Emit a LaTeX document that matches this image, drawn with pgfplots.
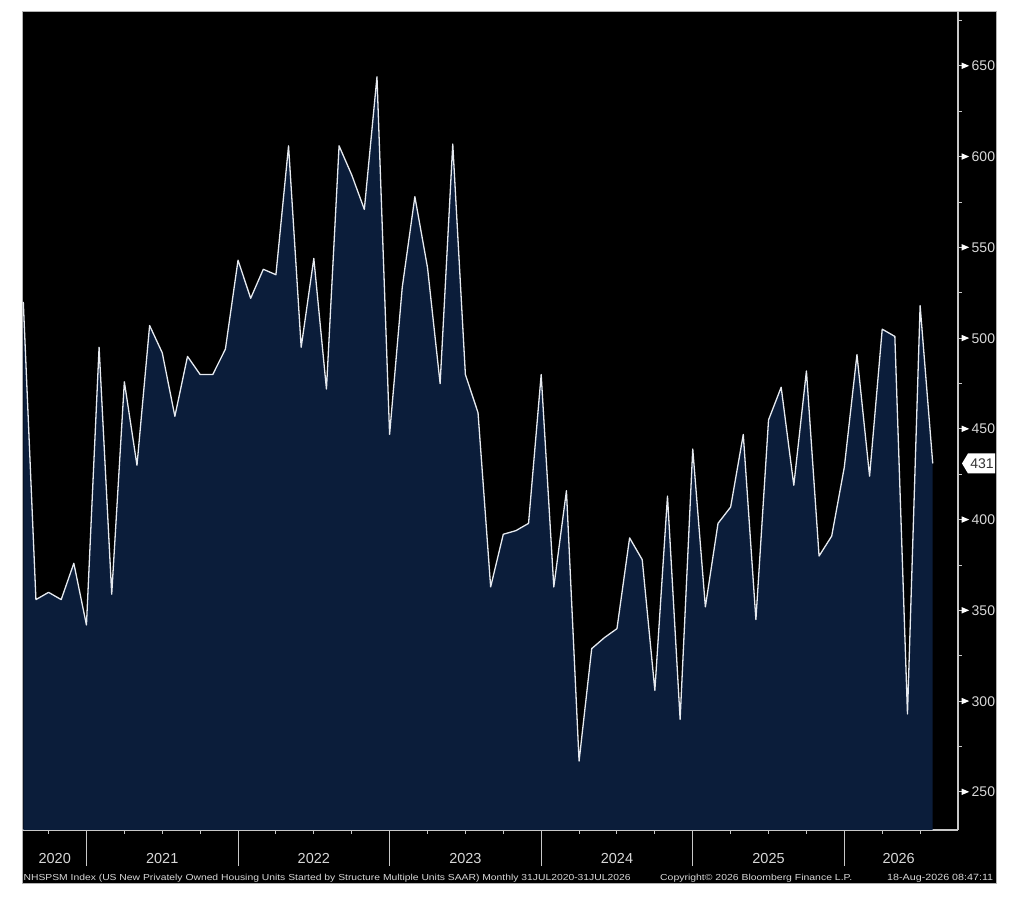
\documentclass[border=0pt]{standalone}
\usepackage{pgfplots}
\pgfplotsset{compat=1.18}
\usepackage{fontspec}
\setmainfont{Liberation Sans}
\definecolor{navy}{HTML}{0B1D3A}
\definecolor{lgray}{HTML}{C8C8C8}
\definecolor{ltext}{HTML}{D8D8D8}
\definecolor{linec}{HTML}{E6EAF0}
\pgfplotstableread{
i y
0 520
1 356
2 360
3 356
4 376
5 342
6 495
7 359
8 476
9 430
10 507
11 492
12 457
13 490
14 480
15 480
16 494
17 543
18 522
19 538
20 535
21 606
22 495
23 544
24 472
25 606
26 590
27 571
28 644
29 447
30 528
31 578
32 539
33 475
34 607
35 480
36 459
37 363
38 392
39 394
40 398
41 480
42 363
43 416
44 267
45 329
46 335
47 340
48 390
49 378
50 306
51 413
52 290
53 439
54 352
55 398
56 407
57 447
58 345
59 455
60 473
61 419
62 482
63 380
64 391
65 429
66 491
67 424
68 505
69 501
70 293
71 518
72 431
}\housing
\tikzset{yrlab/.style={text=ltext, font=\fontsize{14.5bp}{14.5bp}\selectfont, yshift=-29bp}}
\begin{document}
\begin{tikzpicture}
\fill[white] (0bp,0bp) rectangle (1024bp,908bp);
\fill[black] (22bp,25bp) rectangle (996bp,897bp);
\draw[gray!60, line width=0.8bp] (22bp,25bp) rectangle (996bp,897bp);
\begin{axis}[
  at={(22bp,78bp)}, anchor=south west,
  width=936bp, height=819bp, scale only axis,
  xmin=-0.103, xmax=74.0, ymin=229.06, ymax=680.3,
  axis x line*=bottom, axis y line*=right,
  axis line style={draw=lgray, line width=1.2bp},
  clip mode=individual,
  tick align=outside,
  major tick length=3.5bp, minor tick length=3.5bp,
  tick style={draw=lgray, line width=1bp},
  xtick={2,5,...,71}, xticklabel=\empty,
  extra x ticks={5,17,29,41,53,65}, extra x tick labels={},
  extra x tick style={major tick length=36bp, tick style={draw=lgray, line width=1bp}},
  ytick={250,300,...,650}, minor ytick={275,325,...,675},
  /pgf/number format/assume math mode=true,
  yticklabel={\tikz[baseline=-5bp]\fill[white] (0,-3.2bp)--(7.5bp,0)--(0,3.2bp)--cycle;\hspace{2.5bp}\pgfmathprintnumber{\tick}},
  yticklabel style={anchor=west, inner xsep=0pt, xshift=0bp, text=ltext, font=\fontsize{14bp}{14bp}\selectfont},
]
\addplot[fill=navy, draw=none] table[x=i, y=y] {\housing} \closedcycle;
\addplot[linec, line width=1.3bp, line join=round] table[x=i, y=y] {\housing};
\fill[white, shift={(axis cs:74.0,431)}] (4bp,0bp) -- (10bp,10bp) -- (37bp,10bp) -- (37bp,-10bp) -- (10bp,-10bp) -- cycle;
\node[text=black!80, font=\fontsize{14bp}{14bp}\selectfont, shift={(24bp,0bp)}] at (axis cs:74.0,431) {431};
\node[yrlab] at (axis cs:2.49,229.06) {2020};
\node[yrlab] at (axis cs:11,229.06) {2021};
\node[yrlab] at (axis cs:23,229.06) {2022};
\node[yrlab] at (axis cs:35,229.06) {2023};
\node[yrlab] at (axis cs:47,229.06) {2024};
\node[yrlab] at (axis cs:59,229.06) {2025};
\node[yrlab] at (axis cs:69.3,229.06) {2026};
\end{axis}
\node[anchor=base west, inner sep=0pt, text=ltext] at (23.4bp,28bp) {\resizebox{607bp}{6.3bp}{NHSPSM Index (US New Privately Owned Housing Units Started by Structure Multiple Units SAAR) Monthly 31JUL2020-31JUL2026}};
\node[anchor=base west, inner sep=0pt, text=ltext] at (660bp,28bp) {\resizebox{192bp}{6.3bp}{Copyright© 2026 Bloomberg Finance L.P.}};
\node[anchor=base west, inner sep=0pt, text=ltext] at (887bp,28bp) {\resizebox{106bp}{6.3bp}{18-Aug-2026 08:47:11}};
\end{tikzpicture}
\end{document}
